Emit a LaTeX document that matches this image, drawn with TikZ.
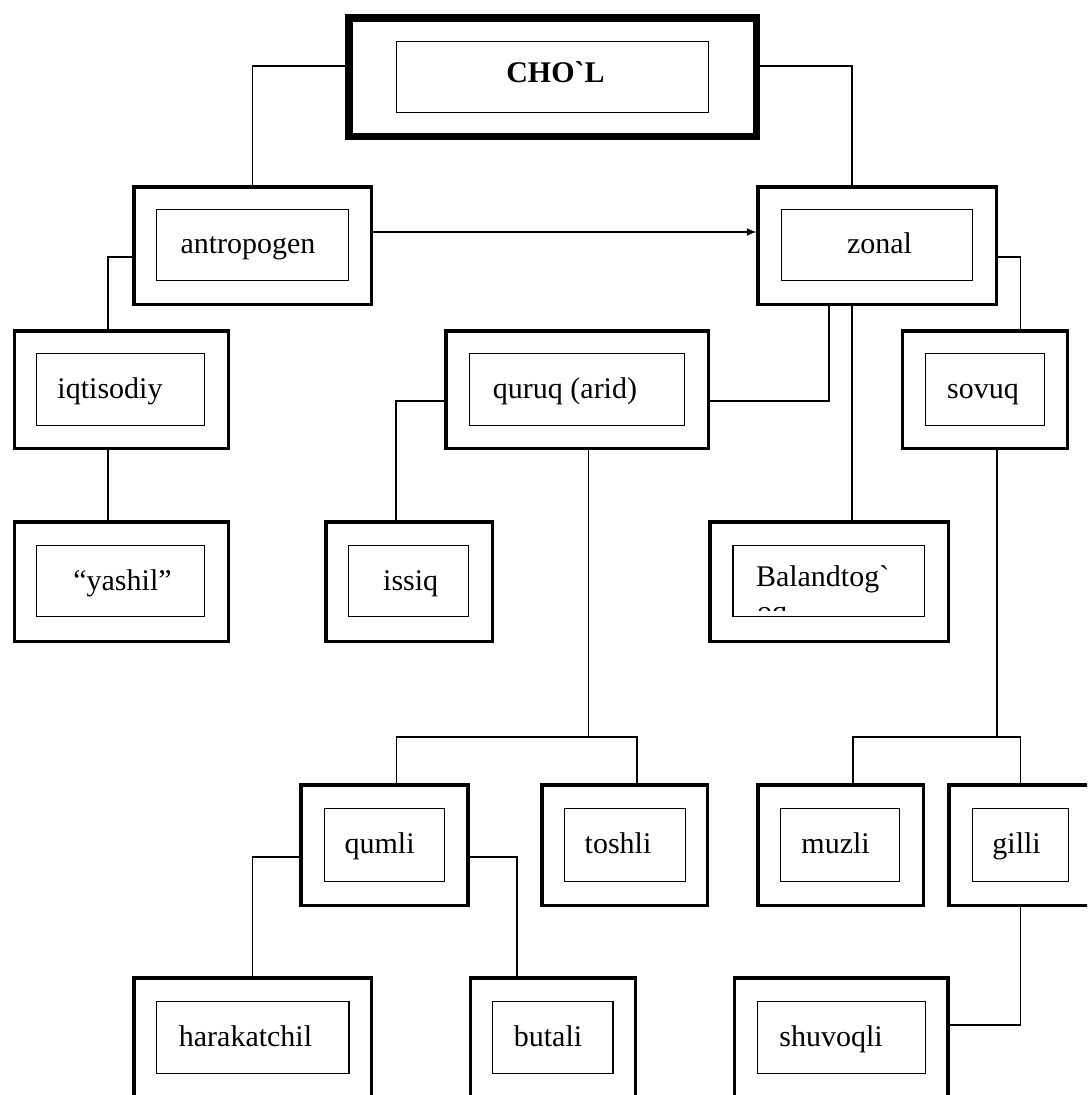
\documentclass[tikz,border=0pt]{standalone}
\usepackage{fontspec}
\newfontfamily\lib{Liberation Serif}
\usetikzlibrary{arrows.meta}
\tikzset{
  outerbox/.style={draw=black, line width=#1, inner sep=0pt, outer sep=0pt, rectangle},
  innerbox/.style={draw=black, line width=1.2pt, inner sep=0pt, outer sep=0pt, rectangle},
  lbl/.style={inner sep=0pt, outer sep=0pt, anchor=base, font=\lib\fontsize{30}{35}\selectfont},
  conn/.style={draw=black, line width=1.5pt},
}
% name, x1, x2, y1, y2, line width
\newcommand\mkobox[6]{\node[outerbox=#6pt, minimum width={#3-#2-#6}, minimum height={#5-#4-#6}] (#1) at ({(#2+#3)/2},{(#4+#5)/2}) {};}
\newcommand\mkibox[5]{\node[innerbox, minimum width={#3-#2-1.2}, minimum height={#5-#4-1.2}] (#1) at ({(#2+#3)/2},{(#4+#5)/2}) {};}
\begin{document}
\begin{tikzpicture}[x=1pt,y=-1pt]
\clip (0,0) rectangle (1087,1095);
\fill[white] (0,0) rectangle (1087,1095);

% boxes
\mkobox{chol}{345}{760}{14}{140}{7.5}
\mkibox{chol-in}{396}{709}{41}{113}
\mkobox{antro}{132}{373}{185}{306}{3.5}
\mkibox{antro-in}{156}{349}{209}{281}
\mkobox{zonal}{756}{998}{185}{306}{3.5}
\mkibox{zonal-in}{780.5}{973}{209}{281}
\mkobox{iqtis}{12.5}{230}{329}{450}{3.5}
\mkibox{iqtis-in}{36}{205}{353}{426}
\mkobox{quruq}{444}{710}{329}{450}{3.5}
\mkibox{quruq-in}{468.6}{685}{353}{426}
\mkobox{sovuq}{900.5}{1069}{329}{450}{3.5}
\mkibox{sovuq-in}{924.7}{1045}{353}{426}
\mkobox{yashil}{12.5}{230}{520}{643}{3.5}
\mkibox{yashil-in}{36}{205}{545}{617}
\mkobox{issiq}{324}{494}{520}{643}{3.5}
\mkibox{issiq-in}{348}{469}{545}{617}
\mkobox{baland}{708}{950}{520}{643}{3.5}
\mkibox{baland-in}{732.4}{924.7}{545}{617}
\mkobox{qumli}{299.4}{469.6}{783}{907}{3.5}
\mkibox{qumli-in}{323.7}{445}{808}{882}
\mkobox{toshli}{540}{709}{783}{907}{3.5}
\mkibox{toshli-in}{564}{685.7}{808}{882}
\mkobox{muzli}{756}{925}{783}{907}{3.5}
\mkibox{muzli-in}{780}{900}{808}{882}
\mkobox{gilli}{947}{1097}{783}{907}{3.5}
\mkibox{gilli-in}{972}{1069}{808}{882}
\mkobox{harak}{132}{373}{976}{1102}{3.5}
\mkibox{harak-in}{155.8}{349.5}{1001}{1074}
\mkobox{butali}{468.5}{637}{976}{1102}{3.5}
\mkibox{butali-in}{492}{613.5}{1001}{1074}
\mkobox{shuvoq}{732.6}{949.7}{976}{1102}{3.5}
\mkibox{shuvoq-in}{756.6}{926}{1001}{1074}

% texts
\node[lbl, font=\lib\bfseries\fontsize{30}{35}\selectfont] (chol-t) at (555.5,82) {CHO`L};
\node[lbl] (antro-t) at (248,253.3) {antropogen};
\node[lbl] (zonal-t) at (879.5,253.3) {zonal};
\node[lbl] (iqtis-t) at (110,398) {iqtisodiy};
\node[lbl] (quruq-t) at (565,398) {quruq (arid)};
\node[lbl] (sovuq-t) at (983,398) {sovuq};
\node[lbl] (yashil-t) at (122.5,590) {“yashil”};
\node[lbl] (issiq-t) at (410.7,590) {issiq};
\node[lbl, anchor=base west] (baland-t) at (756,586) {Balandtog`};
\begin{scope}
  \clip (baland-in.north west) rectangle ([yshift=5.5pt]baland-in.south east);
  \node[lbl, anchor=base west] (baland-t2) at (757,621) {oq};
\end{scope}
\node[lbl] (qumli-t) at (379.6,853) {qumli};
\node[lbl] (toshli-t) at (618,853) {toshli};
\node[lbl] (muzli-t) at (835.6,853) {muzli};
\node[lbl] (gilli-t) at (1016.6,853) {gilli};
\node[lbl] (harak-t) at (245.5,1046.7) {harakatchil};
\node[lbl] (butali-t) at (548,1046.7) {butali};
\node[lbl] (shuvoq-t) at (831,1046.7) {shuvoqli};

% split points
\coordinate (qsplit) at (588.6,737);
\coordinate (ssplit) at (997,737);

% connectors
\draw[conn] ([yshift=11pt]chol.west) -| (antro.north);
\draw[conn] ([yshift=11pt]chol.east) -| ([xshift=-25pt]zonal.north);
\draw[conn, -{Latex[length=10pt,width=8pt]}] ([yshift=13.5pt]antro.east) -- ([yshift=13.5pt,xshift=-1pt]zonal.west);
\draw[conn] ([yshift=-11.5pt]antro.west) -| ([xshift=-13.25pt]iqtis.north);
\draw[conn] ([xshift=-13.25pt]iqtis.south) -- ([xshift=-13.25pt]yashil.north);
\draw[conn] ([yshift=-11.5pt]zonal.east) -| ([xshift=35.75pt]sovuq.north);
\draw[conn] ([xshift=-48pt]zonal.south) |- ([yshift=-11.5pt]quruq.east);
\draw[conn] ([xshift=-25pt]zonal.south) -- ([xshift=23pt]baland.north);
\draw[conn] ([yshift=-11.5pt]quruq.west) -| ([xshift=-13pt]issiq.north);
\draw[conn] ([xshift=11.6pt]quruq.south) -- (qsplit);
\draw[conn] (qsplit) -| ([xshift=12.2pt]qumli.north);
\draw[conn] (qsplit) -| ([xshift=12.5pt]toshli.north);
\draw[conn] ([xshift=12.25pt]sovuq.south) -- (ssplit);
\draw[conn] (ssplit) -| ([xshift=12.5pt]muzli.north);
\draw[conn] (ssplit) -| ([xshift=-1.4pt]gilli.north);
\draw[conn] ([yshift=-12pt]qumli.west) -| (harak.north);
\draw[conn] ([yshift=-12pt]qumli.east) -| ([xshift=-35.75pt]butali.north);
\draw[conn] ([xshift=-1.4pt]gilli.south) |- ([yshift=14pt]shuvoq.east);
\end{tikzpicture}
\end{document}
